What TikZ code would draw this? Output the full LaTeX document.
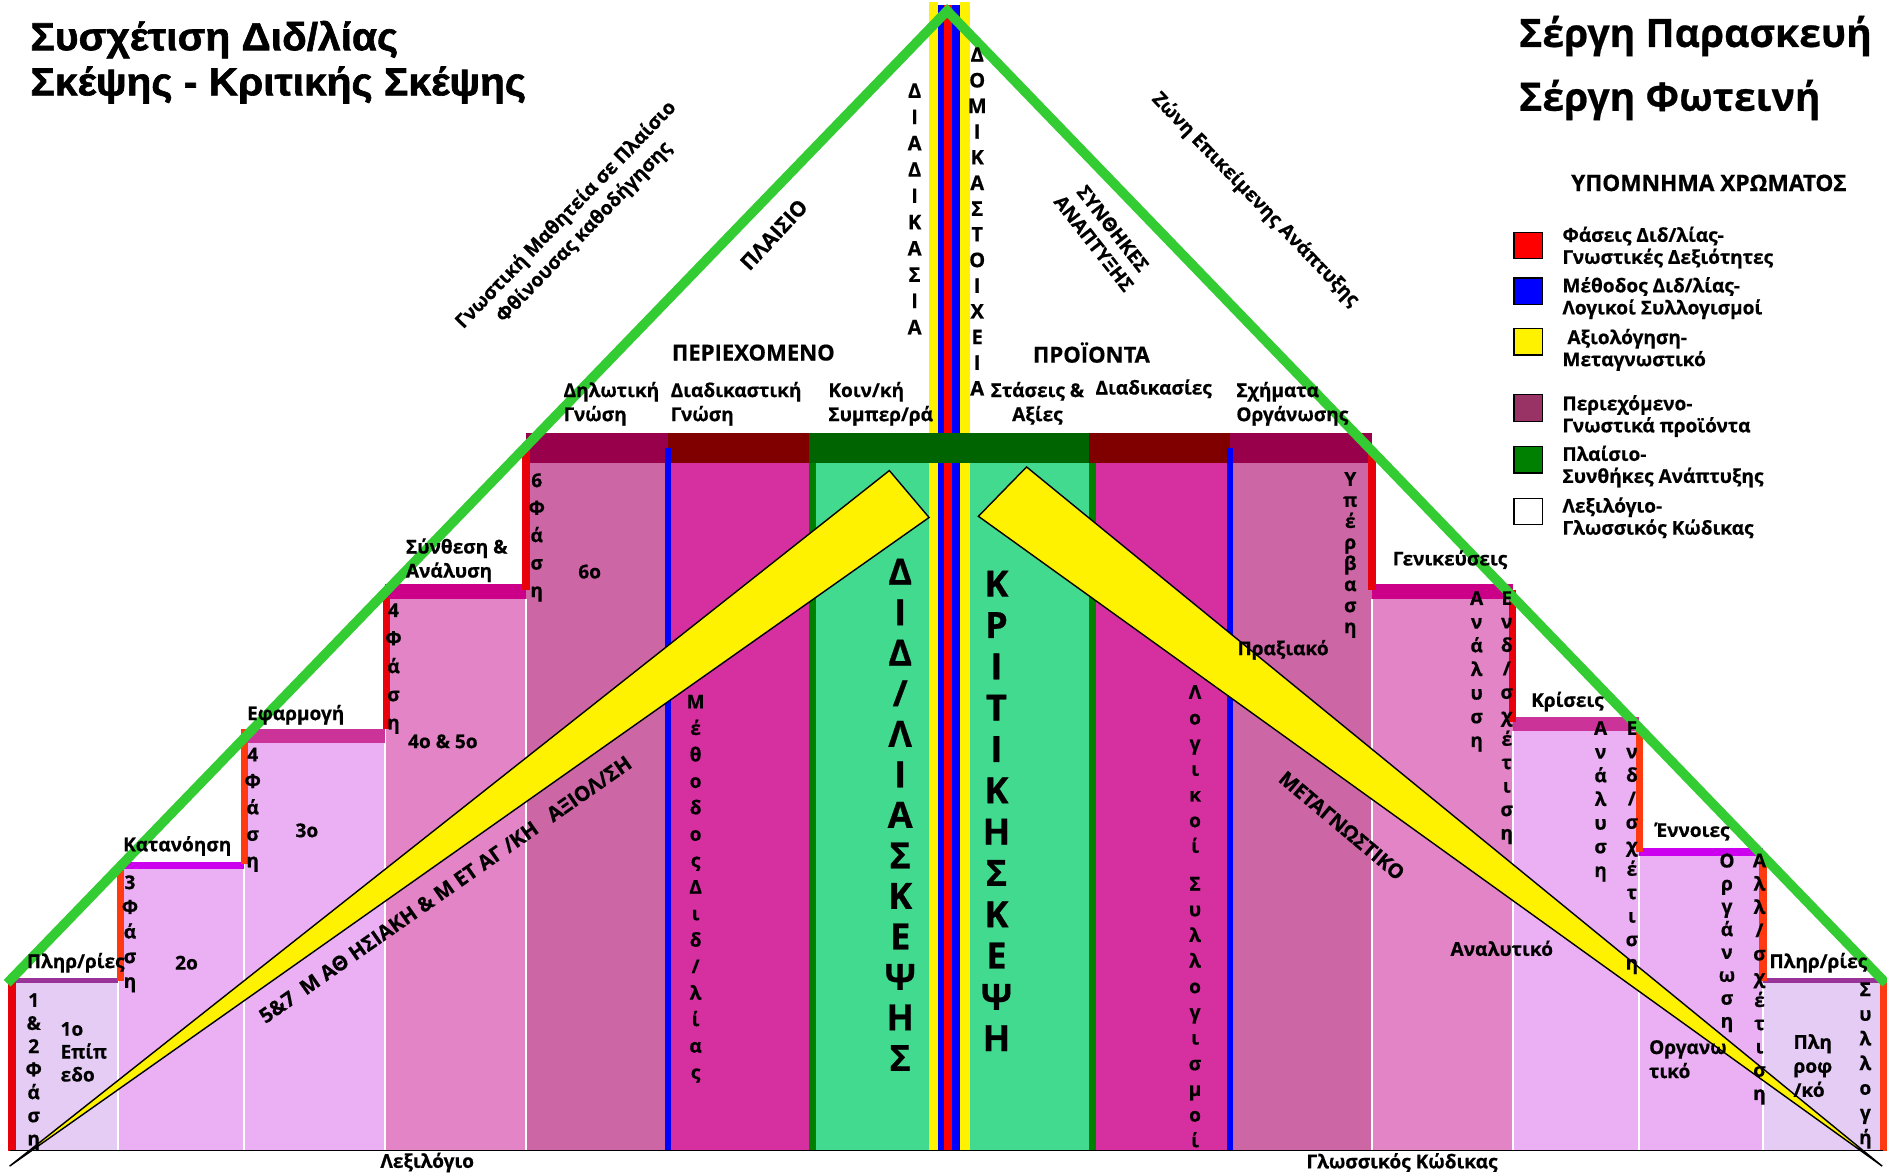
\documentclass[tikz,border=0pt]{standalone}
\usepackage{fontspec}
\setmainfont{Open Sans}[BoldFeatures={FakeBold=0.6}]
\newfontfamily\arialf{Liberation Sans}[FakeStretch=1.04, FakeBold=1.6]
\definecolor{gline}{HTML}{33CC33}
\definecolor{lavA}{HTML}{E4CCF4}
\definecolor{lavB}{HTML}{EBB0F3}
\definecolor{pinkC}{HTML}{E384C6}
\definecolor{mauveD}{HTML}{CC66A5}
\definecolor{magE}{HTML}{D630A0}
\definecolor{grnF}{HTML}{42DA8F}
\definecolor{barA}{HTML}{993399}
\definecolor{barB}{HTML}{CC00EE}
\definecolor{barC}{HTML}{CC3399}
\definecolor{barD}{HTML}{CC0088}
\definecolor{barE}{HTML}{99004C}
\definecolor{barF}{HTML}{800000}
\definecolor{barG}{HTML}{006400}
\definecolor{dgrn}{HTML}{008000}
\definecolor{redA}{HTML}{E8000A}
\definecolor{redB}{HTML}{FF3A10}
\definecolor{legP}{HTML}{993366}
\begin{document}
\begin{tikzpicture}[x=0.6pt,y=-0.6pt,
  lbl/.style={font=\bfseries\fontsize{9.5}{12}\selectfont, inner sep=0pt, align=left},
  vst/.style={font=\bfseries\fontsize{9.5}{#1}\selectfont, inner sep=0pt, align=center, anchor=north},
  bigv/.style={font=\bfseries\fontsize{18}{#1}\selectfont, inner sep=0pt, align=center, anchor=north},
  capv/.style={font=\bfseries\fontsize{10}{#1}\selectfont, inner sep=0pt, align=center, anchor=north},
  rot/.style={font=\bfseries\fontsize{9.6}{12.5}\selectfont, inner sep=0pt, align=center},
  legbox/.style={draw=black, line width=0.6pt, minimum width=14.4pt, minimum height=13.2pt, inner sep=0pt},
  legtxt/.style={font=\bfseries\fontsize{9.5}{11}\selectfont, inner sep=0pt, align=left, anchor=north west},
  redv/.style={line width=3.6pt, redA},
  oredv/.style={line width=3.6pt, redB},
  bluev/.style={line width=3pt, blue},
  sep/.style={line width=1pt, white},
  wedge/.style={fill=yellow, draw=black, line width=0.7pt, line join=miter}
]
\fill[white] (0,0) rectangle (1568,976);
\useasboundingbox (0,0) rectangle (1568,976);
% columns
\fill[lavA] (10,815) rectangle (98,956);
\fill[lavB] (98,718) rectangle (203,956);
\fill[lavB] (203,606) rectangle (320,956);
\fill[pinkC] (320,485) rectangle (437,956);
\fill[mauveD] (437,360) rectangle (555,956);
\fill[magE] (555,360) rectangle (672,956);
\fill[grnF] (672,360) rectangle (772,956);
\fill[grnF] (806,360) rectangle (905,956);
\fill[magE] (905,360) rectangle (1022,956);
\fill[mauveD] (1022,360) rectangle (1140,956);
\fill[pinkC] (1140,485) rectangle (1257,956);
\fill[lavB] (1257,596) rectangle (1362,956);
\fill[lavB] (1362,706) rectangle (1465,956);
\fill[lavA] (1465,815) rectangle (1565,956);
% separators
\foreach \xs/\ys in {98/815,203/718,320/606,437/498,1140/498,1257/607,1362/711,1465/817}
  \draw[sep] (\xs,\ys) -- (\xs,956);
% stripes
\fill[yellow] (772,2) rectangle (779.6,956);
\fill[blue] (779.6,4) rectangle (784.8,956);
\fill[red] (784.8,4) rectangle (790.9,956);
\fill[blue] (790.9,4) rectangle (797.6,956);
\fill[yellow] (797.6,2) rectangle (806,956);
% bars
\fill[barA] (10,813) rectangle (98,817);
\fill[barB] (98,716) rectangle (203,722);
\fill[barC] (203,606) rectangle (320,617);
\fill[barD] (320,485) rectangle (437,498);
\fill[barE] (437,360) rectangle (555,385);
\fill[barF] (555,360) rectangle (672,385);
\fill[barG] (672,360) rectangle (905,385);
\fill[barF] (905,360) rectangle (1022,385);
\fill[barE] (1022,360) rectangle (1140,385);
\fill[barD] (1140,485) rectangle (1257,498);
\fill[barC] (1257,596) rectangle (1362,607);
\fill[barB] (1362,705) rectangle (1465,711);
\fill[barA] (1465,813) rectangle (1565,817);
% dark green borders and blue lines
\draw[line width=3.6pt, dgrn] (675,385) -- (675,956);
\draw[line width=3.6pt, dgrn] (908,385) -- (908,956);
\draw[bluev] (555,372) -- (555,956);
\draw[bluev] (1022,372) -- (1022,956);
% red verticals
\draw[redv] (10,815) -- (10,956);
\draw[oredv] (100,718) -- (100,815);
\draw[oredv] (203,606) -- (203,718);
\draw[redv] (321,497) -- (321,606);
\draw[redv] (437,372) -- (437,490);
\draw[redv] (1140,372) -- (1140,490);
\draw[redv] (1257,490) -- (1257,600);
\draw[oredv] (1362,606) -- (1362,708);
\draw[oredv] (1465,711) -- (1465,815);
\draw[oredv] (1565,815) -- (1565,956);
% green triangle sides
\draw[gline, line width=4.8pt, line join=miter] (6,817) -- (787,9) -- (1567,817);
% base line
\draw[black, line width=0.9pt] (8,956) -- (1565,956);
% yellow wedges
\draw[wedge] (8,969) -- (739,391) -- (772,430) -- cycle;
\draw[wedge] (1564,969) -- (853,388) -- (813,429) -- cycle;

% titles
\node[font=\arialf\bfseries\fontsize{19.5}{22.5}\selectfont, inner sep=0pt, align=left, anchor=north west] (title) at (25,17) {Συσχέτιση Διδ/λίας\\Σκέψης - Κριτικής Σκέψης};
\node[font=\bfseries\fontsize{19.5}{22}\selectfont, inner sep=0pt, anchor=west] (auth1) at (1262,30) {Σέργη Παρασκευή};
\node[font=\bfseries\fontsize{19.5}{22}\selectfont, inner sep=0pt, anchor=west] (auth2) at (1262,83) {Σέργη Φωτεινή};
% legend
\node[font=\bfseries\fontsize{11.3}{13}\selectfont, inner sep=0pt] (leg) at (1420,152) {ΥΠΟΜΝΗΜΑ ΧΡΩΜΑΤΟΣ};
\node[legbox, fill=red] (lb1) at (1270,204) {};
\node[legbox, fill=blue] (lb2) at (1270,242) {};
\node[legbox, fill=yellow] (lb3) at (1270,284) {};
\node[legbox, fill=legP] (lb4) at (1270,339) {};
\node[legbox, fill=dgrn] (lb5) at (1270,382) {};
\node[legbox, fill=white] (lb6) at (1270,425) {};
\node[legtxt] (lt1) at (1298,188) {Φάσεις Διδ/λίας-\\Γνωστικές Δεξιότητες};
\node[legtxt] (lt2) at (1298,230) {Μέθοδος Διδ/λίας-\\Λογικοί Συλλογισμοί};
\node[legtxt] (lt3) at (1298,273) {\ Αξιολόγηση-\\Μεταγνωστικό};
\node[legtxt] (lt4) at (1298,328) {Περιεχόμενο-\\Γνωστικά προϊόντα};
\node[legtxt] (lt5) at (1298,370) {Πλαίσιο-\\Συνθήκες Ανάπτυξης};
\node[legtxt] (lt6) at (1298,413) {Λεξιλόγιο-\\Γλωσσικός Κώδικας};

% rotated labels
\node[rot, rotate=46] (gnos) at (478,186) {Γνωστική Μαθητεία σε Πλαίσιο\\Φθίνουσας καθοδήγησης};
\node[rot, font=\bfseries\fontsize{10.5}{12}\selectfont, rotate=47] (plaisio) at (643,195) {ΠΛΑΙΣΙΟ};
\node[rot, font=\bfseries\fontsize{9.5}{12}\selectfont, rotate=-52] (synth) at (917,196) {ΣΥΝΘΗΚΕΣ\\ΑΝΑΠΤΥΞΗΣ};
\node[rot, rotate=-46] (zoni) at (1043,166) {Ζώνη Επικείμενης Ανάπτυξης};
\node[rot, font=\bfseries\fontsize{10}{12}\selectfont, rotate=-40] (metag) at (1115,686) {ΜΕΤΑΓΝΩΣΤΙΚΟ};
\node[rot, font=\bfseries\fontsize{10.2}{12}\selectfont, rotate=35] (mathis) at (370,739) {5\&7\ \ Μ ΑΘ ΗΣΙΑΚΗ \& Μ ΕΤ ΑΓ /ΚΗ\ \ \ ΑΞΙΟΛ/ΣΗ};

% headings
\node[lbl, font=\bfseries\fontsize{11}{12}\selectfont, anchor=west] (perie) at (558,293) {ΠΕΡΙΕΧΟΜΕΝΟ};
\node[lbl, font=\bfseries\fontsize{11}{12}\selectfont, anchor=west] (proi) at (858,293) {ΠΡΟΪΟΝΤΑ};
\node[lbl, anchor=north west] (dilo) at (468,317) {Δηλωτική\\Γνώση};
\node[lbl, anchor=north west] (diad) at (557,317) {Διαδικαστική\\Γνώση};
\node[lbl, anchor=north west] (koin) at (688,317) {Κοιν/κή\\Συμπερ/ρά};
\node[lbl, anchor=north, align=center] (stas) at (862,317) {Στάσεις \&\\Αξίες};
\node[lbl, anchor=west] (diadik) at (910,323) {Διαδικασίες};
\node[lbl, anchor=north west] (sxim) at (1027,317) {Σχήματα\\Οργάνωσης};

% left step labels
\node[lbl, anchor=west] (plL) at (22,800) {Πληρ/ρίες};
\node[lbl, anchor=west] (katan) at (102,703) {Κατανόηση};
\node[lbl, anchor=west] (efarm) at (205,594) {Εφαρμογή};
\node[lbl, anchor=north west] (synthesi) at (337,447) {Σύνθεση \&\\Ανάλυση};
\node[lbl, anchor=north west, font=\bfseries\fontsize{9.5}{11.4}\selectfont] (epip) at (50,849) {1ο\\Επίπ\\εδο};
\node[lbl] (n2o) at (155,800) {2ο};
\node[lbl] (n3o) at (255,690) {3ο};
\node[lbl] (n45o) at (368,616) {4ο \& 5ο};
\node[lbl] (n6o) at (490,475) {6ο};
% right step labels
\node[lbl, anchor=west] (prax) at (1028,540) {Πραξιακό};
\node[lbl, anchor=west] (genik) at (1157,465) {Γενικεύσεις};
\node[lbl, anchor=west] (analyt) at (1205,788) {Αναλυτικό};
\node[lbl, anchor=west] (kris) at (1272,583) {Κρίσεις};
\node[lbl, anchor=west] (ennoi) at (1375,691) {Έννοιες};
\node[lbl, anchor=north west] (organ) at (1370,864) {Οργανω\\τικό};
\node[lbl, anchor=west] (plR) at (1470,800) {Πληρ/ρίες};
\node[lbl, anchor=north west] (plir) at (1490,859) {Πλη\\ροφ\\/κό};
\node[lbl] (lexi) at (355,966) {Λεξιλόγιο};
\node[lbl] (glos) at (1165,966) {Γλωσσικός Κώδικας};

% vertical stacks
\node[vst=11.5] (v1) at (28,825) {1\\\&\\2\\Φ\\ά\\σ\\η};
\node[vst=12.3] (v3) at (108,727) {3\\Φ\\ά\\σ\\η};
\node[vst=13.2] (v5) at (210,621) {4\\Φ\\ά\\σ\\η};
\node[vst=14] (v7) at (327,501) {4\\Φ\\ά\\σ\\η};
\node[vst=13.7] (v9) at (446,393) {6\\Φ\\ά\\σ\\η};
\node[vst=13.2] (v11) at (578,577) {Μ\\έ\\θ\\ο\\δ\\ο\\ς\\Δ\\ι\\δ\\/\\λ\\ί\\α\\ς};
\node[bigv=20.2] (v12) at (748,464) {Δ\\Ι\\Δ\\/\\Λ\\Ι\\Α\\Σ\\Κ\\Ε\\Ψ\\Η\\Σ};
\node[capv=13.1] (v13) at (760,69) {Δ\\Ι\\Α\\Δ\\Ι\\Κ\\Α\\Σ\\Ι\\Α};
\node[capv=12.8] (v14) at (812,39) {Δ\\Ο\\Μ\\Ι\\Κ\\Α\\Σ\\Τ\\Ο\\Ι\\Χ\\Ε\\Ι\\Α};
\node[bigv=20.6] (v15) at (828,474) {Κ\\Ρ\\Ι\\Τ\\Ι\\Κ\\Η\\Σ\\Κ\\Ε\\Ψ\\Η};
\node[vst=12.8] (v16) at (993,569) {Λ\\ο\\γ\\ι\\κ\\ο\\ί\\[6pt]Σ\\υ\\λ\\λ\\ο\\γ\\ι\\σ\\μ\\ο\\ί};
\node[vst=10.5] (v17) at (1122,392) {Υ\\π\\έ\\ρ\\β\\α\\σ\\η};
\node[vst=11.8] (v18) at (1227,491) {Α\\ν\\ά\\λ\\υ\\σ\\η};
\node[vst=11.7] (v19) at (1252,491) {Ε\\ν\\δ\\/\\σ\\χ\\έ\\τ\\ι\\σ\\η};
\node[vst=11.8] (v20) at (1330,599) {Α\\ν\\ά\\λ\\υ\\σ\\η};
\node[vst=11.7] (v21) at (1356,599) {Ε\\ν\\δ\\/\\σ\\χ\\έ\\τ\\ι\\σ\\η};
\node[vst=11.4] (v22) at (1435,709) {Ο\\ρ\\γ\\ά\\ν\\ω\\σ\\η};
\node[vst=11.6] (v23) at (1462,709) {Α\\λ\\λ\\/\\σ\\χ\\έ\\τ\\ι\\σ\\η};
\node[vst=12.3] (v24) at (1550,816) {Σ\\υ\\λ\\λ\\ο\\γ\\ή};
\end{tikzpicture}
\end{document}
